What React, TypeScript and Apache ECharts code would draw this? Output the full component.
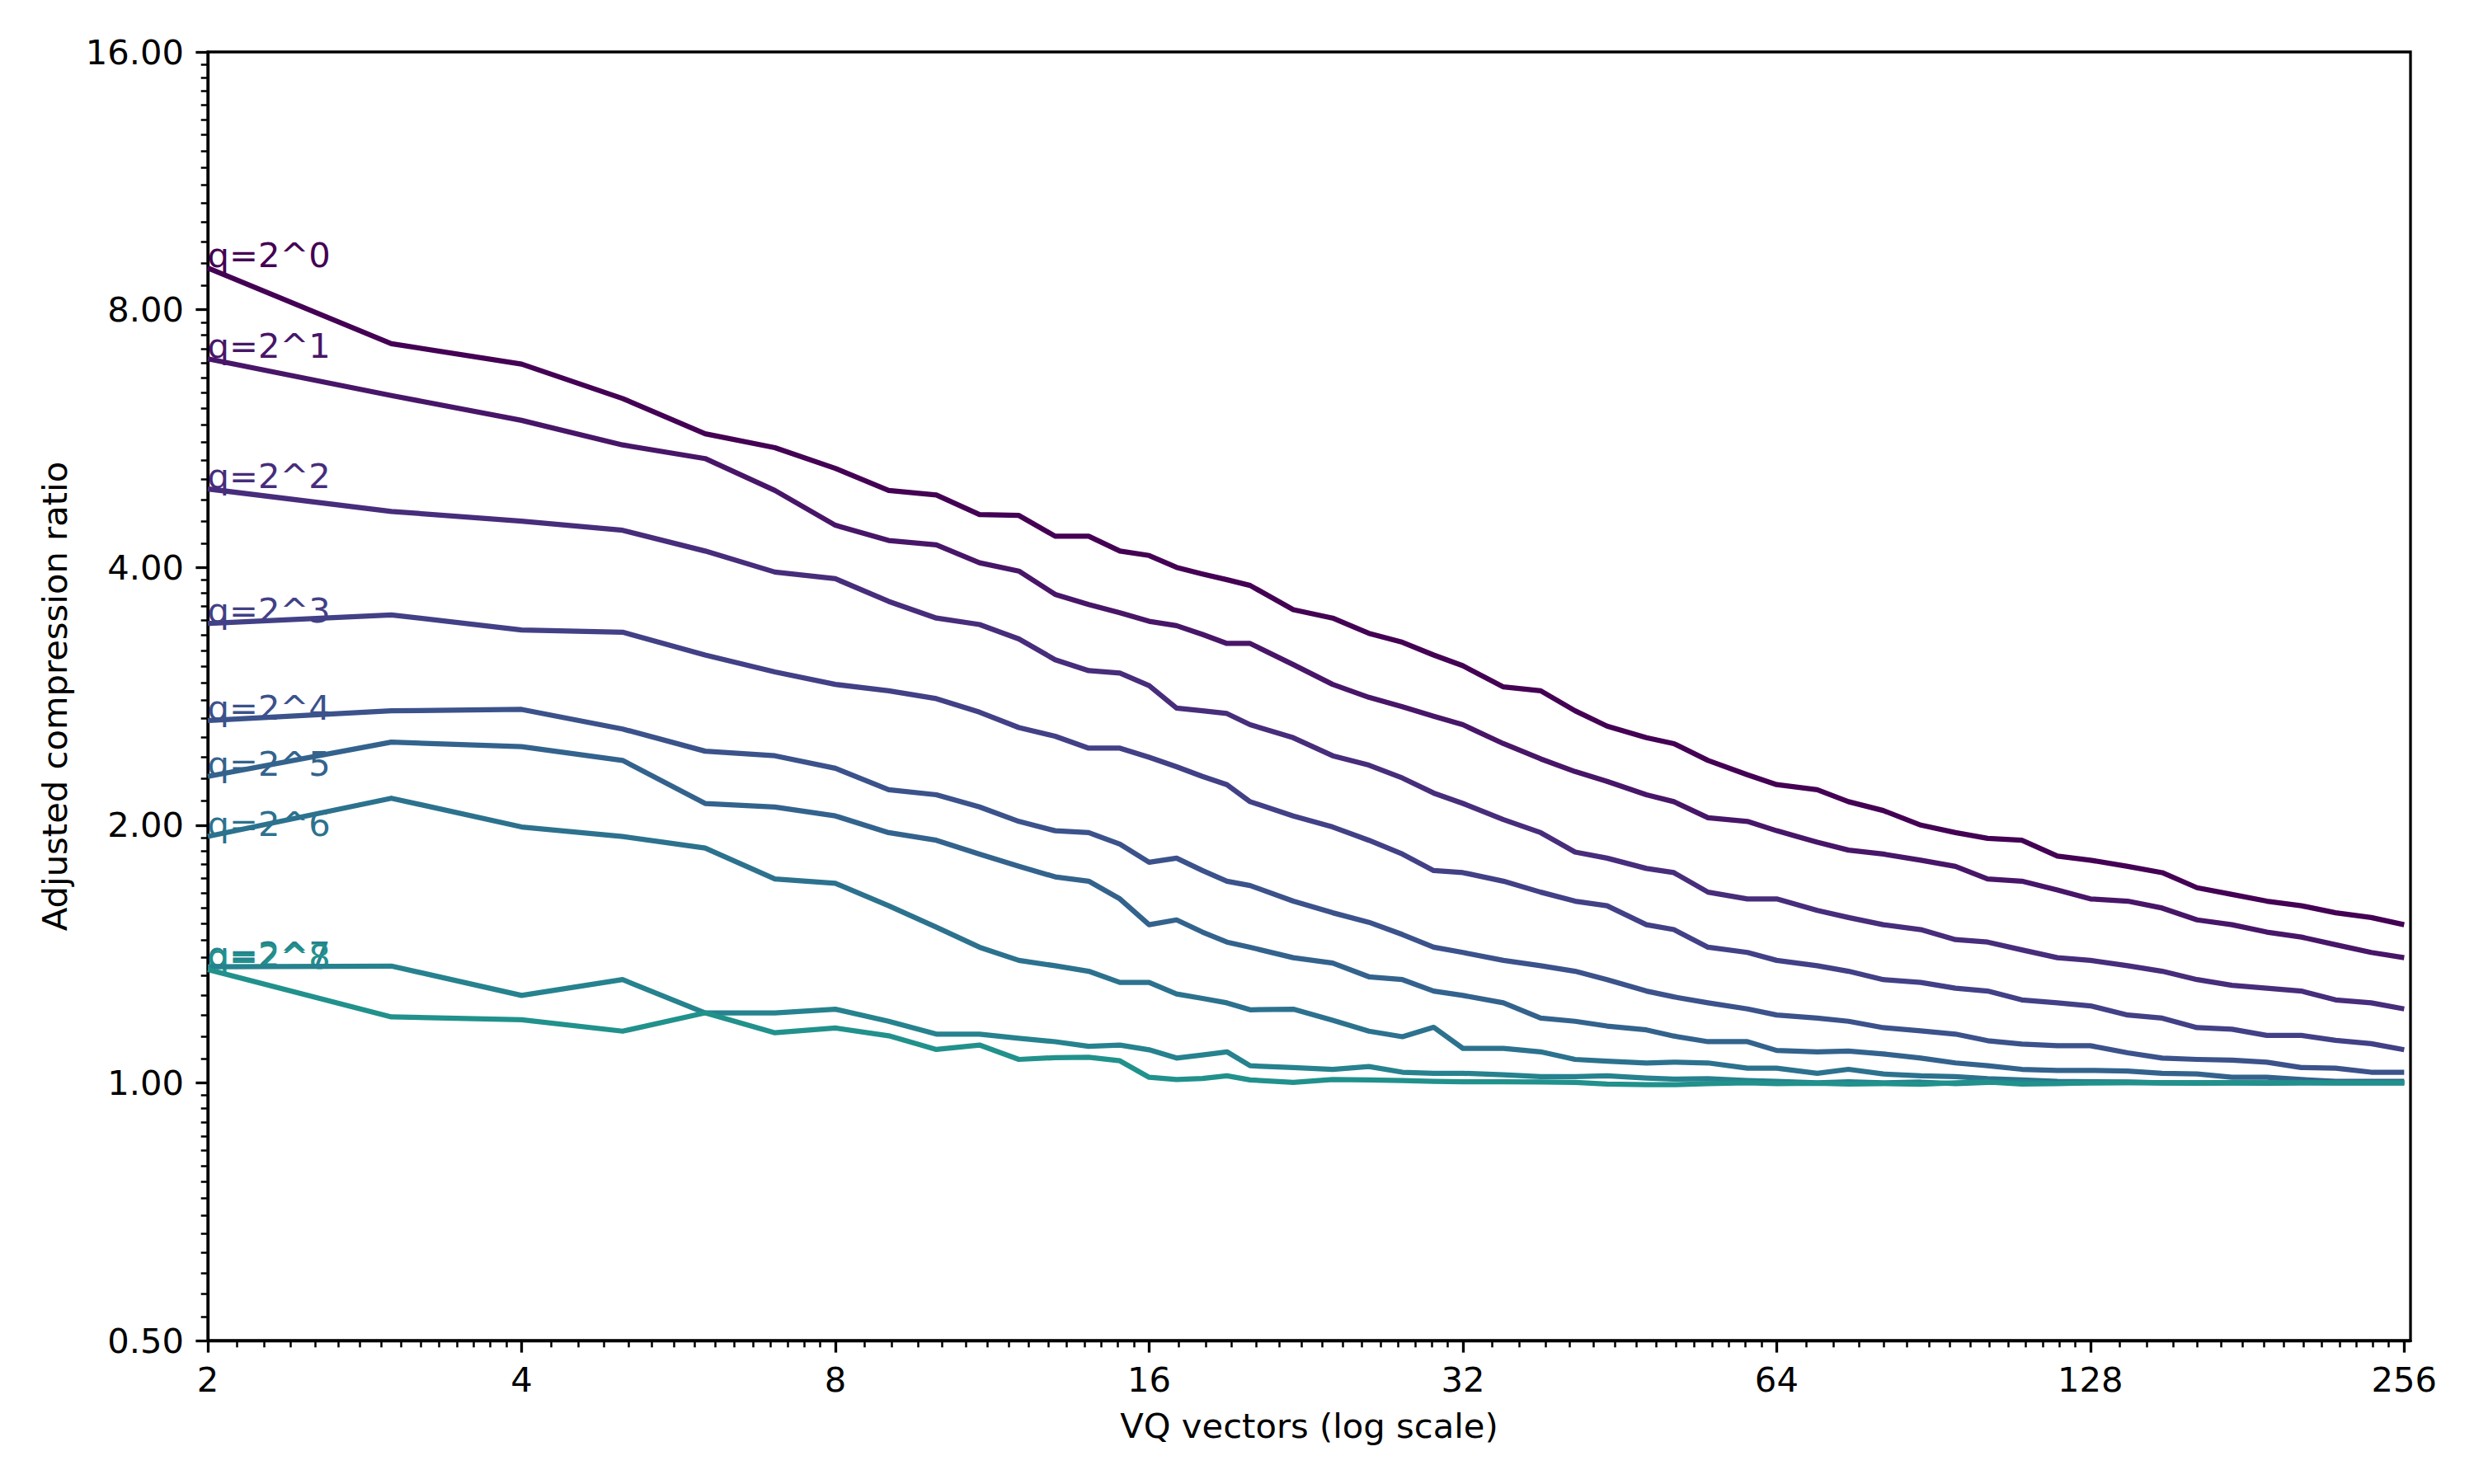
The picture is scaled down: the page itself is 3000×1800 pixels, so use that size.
import React, { useEffect, useRef } from "react";
import * as echarts from "echarts";

// VQ vector counts (x values, log2 axis)
const VQ_VECTORS = [
  2, 3, 4, 5, 6, 7, 8, 9, 10, 11, 12, 13, 14, 15, 16, 17, 18, 19, 20, 22, 24, 26, 28, 30, 32,
  35, 38, 41, 44, 48, 51, 55, 60, 64, 70, 75, 81, 88, 95, 102, 110, 119, 128,
  139, 150, 162, 175, 189, 204, 220, 238, 256,
];

// Adjusted compression ratio per quantisation level q = 2^k
const Q0 = [8.95, 7.3, 6.91, 6.3, 5.73, 5.52, 5.22, 4.92, 4.86, 4.61, 4.6, 4.35, 4.35, 4.18, 4.13, 4.0, 3.93, 3.87, 3.81, 3.57, 3.49, 3.35, 3.27, 3.16, 3.07,
  2.9, 2.87, 2.72, 2.61, 2.53, 2.49, 2.38, 2.29, 2.23, 2.2, 2.13, 2.08, 2.0, 1.96, 1.93, 1.92, 1.84, 1.82,
  1.79, 1.76, 1.69, 1.66, 1.63, 1.61, 1.58, 1.56, 1.53];
const Q1 = [7.01, 6.35, 5.94, 5.56, 5.36, 4.92, 4.48, 4.3, 4.25, 4.05, 3.96, 3.72, 3.62, 3.54, 3.46, 3.42, 3.34, 3.26, 3.26, 3.08, 2.92, 2.82, 2.75, 2.68, 2.62,
  2.49, 2.39, 2.31, 2.25, 2.17, 2.13, 2.04, 2.02, 1.97, 1.91, 1.87, 1.85, 1.82, 1.79, 1.73, 1.72, 1.68, 1.64,
  1.63, 1.6, 1.55, 1.53, 1.5, 1.48, 1.45, 1.42, 1.4];
const Q2 = [4.94, 4.65, 4.53, 4.42, 4.18, 3.95, 3.88, 3.65, 3.49, 3.43, 3.3, 3.12, 3.03, 3.01, 2.91, 2.74, 2.72, 2.7, 2.62, 2.53, 2.41, 2.35, 2.27, 2.18, 2.12,
  2.03, 1.96, 1.86, 1.83, 1.78, 1.76, 1.67, 1.64, 1.64, 1.59, 1.56, 1.53, 1.51, 1.47, 1.46, 1.43, 1.4, 1.39,
  1.37, 1.35, 1.32, 1.3, 1.29, 1.28, 1.25, 1.24, 1.22];
const Q3 = [3.44, 3.52, 3.38, 3.36, 3.16, 3.02, 2.92, 2.87, 2.81, 2.71, 2.6, 2.54, 2.46, 2.46, 2.4, 2.34, 2.28, 2.23, 2.13, 2.05, 1.99, 1.92, 1.85, 1.77, 1.76,
  1.72, 1.67, 1.63, 1.61, 1.53, 1.51, 1.44, 1.42, 1.39, 1.37, 1.35, 1.32, 1.31, 1.29, 1.28, 1.25, 1.24, 1.23,
  1.2, 1.19, 1.16, 1.155, 1.136, 1.136, 1.121, 1.111, 1.093];
const Q4 = [2.65, 2.72, 2.73, 2.59, 2.44, 2.41, 2.33, 2.2, 2.17, 2.1, 2.02, 1.97, 1.96, 1.9, 1.81, 1.83, 1.77, 1.72, 1.7, 1.63, 1.58, 1.54, 1.49, 1.44, 1.42,
  1.39, 1.37, 1.35, 1.32, 1.28, 1.26, 1.24, 1.22, 1.2, 1.19, 1.18, 1.16, 1.15, 1.14, 1.12, 1.11, 1.105, 1.105,
  1.084, 1.069, 1.065, 1.063, 1.057, 1.042, 1.04, 1.029, 1.029];
const Q5 = [2.28, 2.5, 2.47, 2.38, 2.12, 2.1, 2.05, 1.96, 1.92, 1.85, 1.79, 1.74, 1.72, 1.64, 1.53, 1.55, 1.5, 1.46, 1.44, 1.4, 1.38, 1.33, 1.32, 1.28, 1.265,
  1.24, 1.19, 1.18, 1.165, 1.153, 1.134, 1.117, 1.117, 1.091, 1.087, 1.089, 1.081, 1.069, 1.055, 1.047, 1.037, 1.034, 1.034,
  1.032, 1.026, 1.024, 1.015, 1.015, 1.009, 1.004, 1.004, 1.004];
const Q6 = [1.94, 2.15, 1.99, 1.94, 1.88, 1.73, 1.71, 1.61, 1.52, 1.44, 1.39, 1.37, 1.35, 1.31, 1.31, 1.27, 1.255, 1.24, 1.217, 1.219, 1.183, 1.149, 1.132, 1.161, 1.097,
  1.097, 1.087, 1.065, 1.06, 1.055, 1.057, 1.055, 1.04, 1.04, 1.026, 1.037, 1.024, 1.019, 1.017, 1.011, 1.008, 1.004, 1.003,
  1.002, 1.0, 1.0, 1.0, 0.999, 1.0, 1.0, 1.0, 1.0];
const Q7 = [1.366, 1.369, 1.265, 1.32, 1.207, 1.207, 1.219, 1.18, 1.14, 1.14, 1.127, 1.117, 1.103, 1.107, 1.093, 1.069, 1.078, 1.087, 1.047, 1.042, 1.037, 1.045, 1.029, 1.026, 1.026,
  1.022, 1.017, 1.017, 1.019, 1.013, 1.01, 1.011, 1.006, 1.004, 1.0, 1.003, 1.0, 1.002, 0.998, 1.001, 1.003, 0.999, 1.0,
  1.001, 1.0, 0.999, 1.0, 1.0, 1.001, 1.0, 1.0, 1.0];
const Q8 = [1.356, 1.194, 1.185, 1.149, 1.207, 1.144, 1.159, 1.135, 1.094, 1.107, 1.065, 1.07, 1.071, 1.061, 1.015, 1.009, 1.012, 1.019, 1.008, 1.001, 1.009, 1.008, 1.006, 1.004, 1.003,
  1.003, 1.002, 1.001, 0.997, 0.995, 0.995, 0.998, 1.0, 0.998, 0.999, 0.997, 0.998, 0.996, 1.0, 1.002, 0.997, 0.998, 1.0,
  1.0, 1.0, 1.0, 1.0, 1.0, 1.0, 1.0, 1.0, 1.0];

const SERIES_VALUES = [Q0, Q1, Q2, Q3, Q4, Q5, Q6, Q7, Q8];
const SERIES_LABELS = ["q=2^0", "q=2^1", "q=2^2", "q=2^3", "q=2^4", "q=2^5", "q=2^6", "q=2^7", "q=2^8"];
const SERIES_COLORS = ["#440154", "#481668", "#472d7b", "#424086", "#3b528b", "#33638d", "#2c728e", "#26828e", "#21918c"];

const X_TICKS = [2, 4, 8, 16, 32, 64, 128, 256];
const Y_TICKS = [0.5, 1, 2, 4, 8, 16];
const X_MIN = 2;
const X_MAX = 259.6;
const Y_MIN = 0.5;
const Y_MAX = 16;

function minorTicks(majors: number[], lo: number, hi: number): number[] {
  const out: number[] = [];
  for (const a of majors) {
    for (let k = 1; k < 15; k++) {
      const v = a * (1 + k / 15);
      if (v > lo && v < hi) out.push(v);
    }
  }
  return out;
}

const FONT = "DejaVu Sans";
const FS = 41.7;

export default function App() {
  const ref = useRef<HTMLDivElement>(null);

  useEffect(() => {
    document.body.style.margin = "0";
    if (!ref.current) return;
    const chart = echarts.init(ref.current, null, { renderer: "svg" });

    const xMinor = minorTicks(X_TICKS, X_MIN, X_MAX);
    const yMinor = minorTicks(Y_TICKS, Y_MIN, Y_MAX);

    const series: any[] = SERIES_VALUES.map((vals, i) => ({
      type: "line",
      name: SERIES_LABELS[i],
      xAxisIndex: 0,
      yAxisIndex: 0,
      data: VQ_VECTORS.map((x, j) => [x, vals[j]]),
      showSymbol: false,
      symbol: "none",
      silent: true,
      z: 2 + i,
      lineStyle: { color: SERIES_COLORS[i], width: 6.25, join: "round", cap: "butt" },
      itemStyle: { color: SERIES_COLORS[i] },
      markPoint: {
        silent: true,
        symbol: "rect",
        symbolSize: 1,
        itemStyle: { color: "rgba(0,0,0,0)" },
        label: {
          show: true,
          position: [0, 0],
          align: "left",
          verticalAlign: "bottom",
          offset: [0, 6],
          color: SERIES_COLORS[i],
          fontFamily: FONT,
          fontSize: FS,
          formatter: SERIES_LABELS[i],
        },
        data: [{ coord: [VQ_VECTORS[0], vals[0]], value: SERIES_LABELS[i] }],
      },
    }));

    const option: any = {
      animation: false,
      backgroundColor: "#ffffff",
      textStyle: { fontFamily: FONT },
      grid: {
        left: 252,
        right: 77,
        top: 63,
        bottom: 174,
        show: true,
        borderColor: "#000",
        borderWidth: 3.3,
        backgroundColor: "rgba(0,0,0,0)",
      },
      xAxis: [
        {
          type: "log",
          logBase: 2,
          min: X_MIN,
          max: X_MAX,
          position: "bottom",
          name: "VQ vectors (log scale)",
          nameLocation: "middle",
          nameGap: 82,
          nameTextStyle: { fontFamily: FONT, fontSize: FS, color: "#000" },
          axisLine: { show: true, lineStyle: { color: "#000", width: 3.3 } },
          axisTick: { show: true, length: 14.6, lineStyle: { color: "#000", width: 3.3 }, customValues: X_TICKS },
          axisLabel: {
            show: true,
            customValues: X_TICKS,
            margin: 26,
            fontFamily: FONT,
            fontSize: FS,
            color: "#000",
            formatter: (v: number) => String(Math.round(v)),
          },
          splitLine: { show: false },
          minorTick: { show: false },
        },
        {
          type: "log",
          logBase: 2,
          min: X_MIN,
          max: X_MAX,
          position: "bottom",
          axisLine: { show: false },
          axisTick: { show: true, length: 8.3, lineStyle: { color: "#000", width: 2.5 }, customValues: xMinor },
          axisLabel: { show: false },
          splitLine: { show: false },
        },
      ],
      yAxis: [
        {
          type: "log",
          logBase: 2,
          min: Y_MIN,
          max: Y_MAX,
          position: "left",
          name: "Adjusted compression ratio",
          nameLocation: "middle",
          nameGap: 165,
          nameTextStyle: { fontFamily: FONT, fontSize: FS, color: "#000" },
          axisLine: { show: true, lineStyle: { color: "#000", width: 3.3 } },
          axisTick: { show: true, length: 14.6, lineStyle: { color: "#000", width: 3.3 }, customValues: Y_TICKS },
          axisLabel: {
            show: true,
            customValues: Y_TICKS,
            margin: 29,
            fontFamily: FONT,
            fontSize: FS,
            color: "#000",
            formatter: (v: number) => v.toFixed(2),
          },
          splitLine: { show: false },
        },
        {
          type: "log",
          logBase: 2,
          min: Y_MIN,
          max: Y_MAX,
          position: "left",
          axisLine: { show: false },
          axisTick: { show: true, length: 8.3, lineStyle: { color: "#000", width: 2.5 }, customValues: yMinor },
          axisLabel: { show: false },
          splitLine: { show: false },
        },
      ],
      series,
    };

    chart.setOption(option);
    return () => {
      chart.dispose();
    };
  }, []);

  return <div ref={ref} style={{ width: 3000, height: 1800 }} />;
}
